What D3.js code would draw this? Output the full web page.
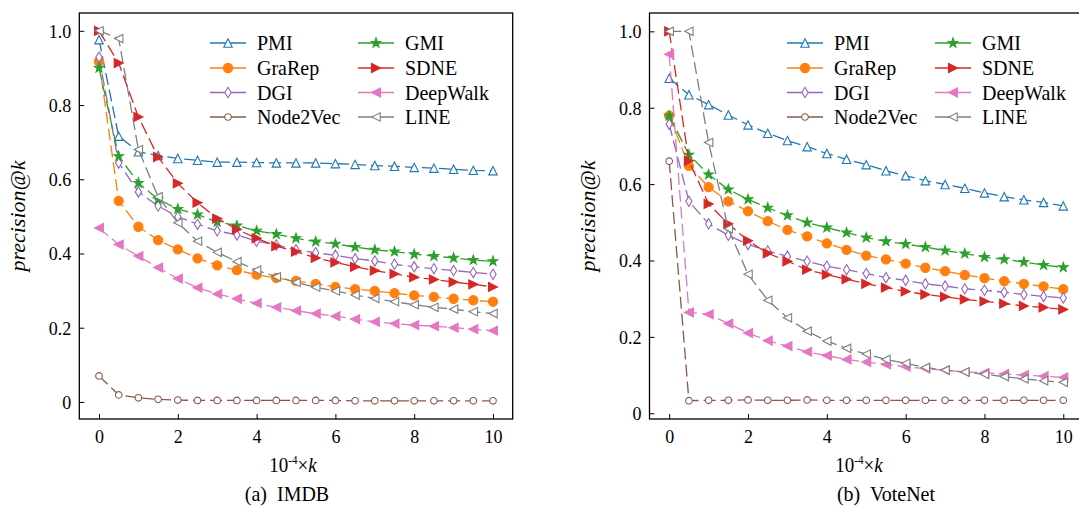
<!DOCTYPE html>
<html>
<head>
<meta charset="utf-8">
<script src="https://cdn.jsdelivr.net/npm/d3@7"></script>
<style>
  body { margin: 0; background: #fff; }
  svg { display: block; }
  text { font-family: "Liberation Serif", "Times New Roman", serif; fill: #000; }
</style>
</head>
<body>
<svg id="chart" width="1079" height="510"></svg>
<script>
// x positions (10^-4 x k)
const kValues = [0, 0.5, 1, 1.5, 2, 2.5, 3, 3.5, 4, 4.5, 5, 5.5, 6, 6.5, 7, 7.5, 8, 8.5, 9, 9.5, 10];
const methods = ['PMI', 'GraRep', 'DGI', 'Node2Vec', 'GMI', 'SDNE', 'DeepWalk', 'LINE'];
const xTicks = [0, 2, 4, 6, 8, 10];
const yTicks = [0, 0.2, 0.4, 0.6, 0.8, 1.0];

// IMDB
const imdbPMI      = [0.976, 0.716, 0.674, 0.664, 0.656, 0.651, 0.646, 0.646, 0.645, 0.644, 0.644, 0.644, 0.642, 0.640, 0.637, 0.635, 0.632, 0.630, 0.627, 0.624, 0.623];
const imdbGraRep   = [0.918, 0.542, 0.472, 0.436, 0.411, 0.387, 0.368, 0.355, 0.343, 0.334, 0.326, 0.318, 0.310, 0.304, 0.299, 0.293, 0.287, 0.283, 0.278, 0.274, 0.270];
const imdbDGI      = [0.929, 0.644, 0.566, 0.528, 0.499, 0.479, 0.461, 0.450, 0.433, 0.423, 0.410, 0.402, 0.395, 0.386, 0.380, 0.371, 0.364, 0.359, 0.354, 0.349, 0.344];
const imdbNode2Vec = [0.070, 0.019, 0.011, 0.007, 0.005, 0.004, 0.004, 0.004, 0.004, 0.004, 0.004, 0.004, 0.004, 0.003, 0.003, 0.003, 0.003, 0.003, 0.003, 0.003, 0.003];
const imdbGMI      = [0.900, 0.662, 0.590, 0.546, 0.520, 0.505, 0.485, 0.475, 0.461, 0.452, 0.441, 0.432, 0.426, 0.417, 0.410, 0.405, 0.398, 0.393, 0.388, 0.382, 0.379];
const imdbSDNE     = [1.000, 0.913, 0.768, 0.660, 0.589, 0.537, 0.494, 0.465, 0.441, 0.420, 0.405, 0.388, 0.376, 0.364, 0.354, 0.345, 0.336, 0.330, 0.323, 0.317, 0.310];
const imdbDeepWalk = [0.469, 0.424, 0.393, 0.362, 0.332, 0.308, 0.291, 0.278, 0.266, 0.255, 0.246, 0.238, 0.231, 0.223, 0.216, 0.211, 0.207, 0.204, 0.200, 0.196, 0.192];
const imdbLINE     = [1.000, 0.979, 0.680, 0.553, 0.483, 0.433, 0.403, 0.378, 0.355, 0.337, 0.322, 0.309, 0.299, 0.288, 0.279, 0.270, 0.262, 0.255, 0.250, 0.243, 0.238];

// VoteNet
const votePMI      = [0.877, 0.834, 0.808, 0.781, 0.755, 0.733, 0.714, 0.698, 0.680, 0.665, 0.651, 0.635, 0.622, 0.609, 0.599, 0.589, 0.577, 0.567, 0.559, 0.552, 0.543];
const voteGraRep   = [0.779, 0.648, 0.592, 0.555, 0.529, 0.503, 0.480, 0.463, 0.445, 0.428, 0.413, 0.403, 0.392, 0.381, 0.372, 0.362, 0.354, 0.346, 0.339, 0.332, 0.325];
const voteDGI      = [0.757, 0.555, 0.496, 0.466, 0.442, 0.425, 0.411, 0.398, 0.385, 0.376, 0.366, 0.355, 0.348, 0.339, 0.333, 0.326, 0.322, 0.317, 0.311, 0.306, 0.302];
const voteNode2Vec = [0.660, 0.033, 0.034, 0.034, 0.035, 0.034, 0.034, 0.035, 0.034, 0.034, 0.034, 0.034, 0.034, 0.034, 0.034, 0.034, 0.034, 0.034, 0.034, 0.034, 0.034];
const voteGMI      = [0.779, 0.677, 0.625, 0.586, 0.560, 0.538, 0.518, 0.499, 0.486, 0.473, 0.460, 0.450, 0.443, 0.435, 0.426, 0.418, 0.409, 0.403, 0.396, 0.388, 0.382];
const voteSDNE     = [1.000, 0.661, 0.548, 0.496, 0.452, 0.419, 0.398, 0.376, 0.363, 0.351, 0.339, 0.329, 0.319, 0.311, 0.305, 0.298, 0.293, 0.287, 0.281, 0.277, 0.272];
const voteDeepWalk = [0.940, 0.264, 0.259, 0.235, 0.210, 0.190, 0.176, 0.161, 0.151, 0.141, 0.134, 0.128, 0.122, 0.117, 0.113, 0.108, 0.106, 0.103, 0.100, 0.097, 0.094];
const voteLINE     = [1.000, 1.000, 0.709, 0.483, 0.364, 0.296, 0.250, 0.215, 0.189, 0.170, 0.155, 0.141, 0.131, 0.120, 0.113, 0.108, 0.102, 0.096, 0.090, 0.085, 0.081];

const imdbSeries = [imdbPMI, imdbGraRep, imdbDGI, imdbNode2Vec, imdbGMI, imdbSDNE, imdbDeepWalk, imdbLINE];
const voteSeries = [votePMI, voteGraRep, voteDGI, voteNode2Vec, voteGMI, voteSDNE, voteDeepWalk, voteLINE];

// style per method (matplotlib tab10)
const styles = {
  PMI:      { color: '#1f77b4', marker: 'triUp',    fill: false, r: 4.2 },
  GraRep:   { color: '#ff7f0e', marker: 'circle',   fill: true,  r: 4.6 },
  DGI:      { color: '#9467bd', marker: 'thinDiam', fill: false, r: 5.2 },
  Node2Vec: { color: '#8c564b', marker: 'circle',   fill: false, r: 3.3 },
  GMI:      { color: '#2ca02c', marker: 'star',     fill: true,  r: 5 },
  SDNE:     { color: '#d62728', marker: 'triRight', fill: true,  r: 4.5 },
  DeepWalk: { color: '#e377c2', marker: 'triLeft',  fill: true,  r: 4.5 },
  LINE:     { color: '#7f7f7f', marker: 'triLeft',  fill: false, r: 4.2 }
};

const SY = 1.1; // text in the reference is a bit taller than wide

function markerPath(type, r) {
  if (type === 'circle') {
    return `M${r},0A${r},${r} 0 1,1 ${-r},0A${r},${r} 0 1,1 ${r},0Z`;
  }
  let pts;
  if (type === 'triUp') pts = [[0, -r], [r, r], [-r, r]];
  else if (type === 'triRight') pts = [[r, 0], [-r, -r], [-r, r]];
  else if (type === 'triLeft') pts = [[-r, 0], [r, -r], [r, r]];
  else if (type === 'thinDiam') pts = [[0, -r], [r * 0.6, 0], [0, r], [-r * 0.6, 0]];
  else if (type === 'star') {
    pts = [];
    for (let i = 0; i < 10; i++) {
      const rr = i % 2 === 0 ? r : r * 0.4;
      const a = -Math.PI / 2 + i * Math.PI / 5;
      pts.push([rr * Math.cos(a), rr * Math.sin(a)]);
    }
  }
  return 'M' + pts.map(p => p[0].toFixed(2) + ',' + p[1].toFixed(2)).join('L') + 'Z';
}

function stretch(sel) {
  sel.each(function() {
    const t = d3.select(this);
    const x = +t.attr('x') || 0, y = +t.attr('y') || 0;
    t.attr('x', null).attr('y', null)
      .attr('transform', `translate(${x},${y}) scale(1,${SY})`);
  });
}

const svg = d3.select('#chart');

const panels = [
  { series: imdbSeries, xRange: [79.3, 512.7], yDomain: [-0.046, 1.048], caption: '(a)  IMDB',
    capX: 287, xlabX: 293, ylabX: 25, legX: 210 },
  { series: voteSeries, xRange: [649.5, 1083], yDomain: [-0.015, 1.048], caption: '(b)  VoteNet',
    capX: 886, xlabX: 859, ylabX: 595, legX: 787 }
];

const plotTop = 13, plotBottom = 419;

panels.forEach(p => {
  const x = d3.scaleLinear().domain([-0.5, 10.5]).range(p.xRange);
  const y = d3.scaleLinear().domain(p.yDomain).range([plotBottom, plotTop]);
  const g = svg.append('g');

  // lines + markers
  methods.forEach((m, i) => {
    const st = styles[m];
    const vals = p.series[i];
    const pts = kValues.map((k, j) => [k, vals[j]]);
    const line = d3.line().x(d => x(d[0])).y(d => y(d[1]));
    g.append('path')
      .attr('d', line(pts))
      .attr('fill', 'none')
      .attr('stroke', st.color)
      .attr('stroke-width', 1.3)
      .attr('stroke-dasharray', '12,5');
    g.selectAll('.mk-' + i)
      .data(pts)
      .enter()
      .append('path')
      .attr('transform', d => `translate(${x(d[0])},${y(d[1])})`)
      .attr('d', markerPath(st.marker, st.r))
      .attr('fill', st.fill ? st.color : '#fff')
      .attr('stroke', st.color)
      .attr('stroke-width', 1.1);
  });

  // axes (ticks inward)
  const xAxis = d3.axisBottom(x).tickValues(xTicks).tickSizeInner(-5).tickSizeOuter(0).tickPadding(10)
    .tickFormat(d3.format('d'));
  const yAxis = d3.axisLeft(y).tickValues(yTicks).tickSizeInner(-5).tickSizeOuter(0).tickPadding(8)
    .tickFormat(d => d === 0 ? '0' : d.toFixed(1));

  const gx = svg.append('g').attr('transform', `translate(0,${plotBottom})`).call(xAxis);
  const gy = svg.append('g').attr('transform', `translate(${p.xRange[0]},0)`).call(yAxis);
  [gx, gy].forEach(a => {
    a.attr('font-family', null);
    a.select('.domain').remove();
    a.selectAll('line').attr('stroke', '#000').attr('stroke-width', 1);
    a.selectAll('text').style('font-size', '18px').style('font-family', '"Liberation Serif", serif');
    stretch(a.selectAll('text'));
  });

  // frame
  svg.append('rect')
    .attr('x', p.xRange[0]).attr('y', plotTop)
    .attr('width', p.xRange[1] - p.xRange[0]).attr('height', plotBottom - plotTop)
    .attr('fill', 'none').attr('stroke', '#000').attr('stroke-width', 1.3);

  // legend
  const rowY = [43, 68, 92.5, 117];
  methods.forEach((m, i) => {
    const st = styles[m];
    const col = Math.floor(i / 4), row = i % 4;
    const lx = p.legX + col * 148, ly = rowY[row];
    svg.append('line')
      .attr('x1', lx).attr('x2', lx + 36).attr('y1', ly).attr('y2', ly)
      .attr('stroke', st.color).attr('stroke-width', 1.3);
    svg.append('path')
      .attr('transform', `translate(${lx + 18},${ly})`)
      .attr('d', markerPath(st.marker, st.r))
      .attr('fill', st.fill ? st.color : '#fff')
      .attr('stroke', st.color).attr('stroke-width', 1.1);
    svg.append('text')
      .attr('transform', `translate(${lx + 47},${ly + 7}) scale(1,${SY})`)
      .style('font-size', '20px')
      .text(m);
  });

  // y label
  svg.append('text')
    .attr('transform', `translate(${p.ylabX},216) rotate(-90) scale(${SY},1)`)
    .attr('text-anchor', 'middle')
    .style('font-size', '20px')
    .style('font-style', 'italic')
    .text('precision@k');

  // x label: 10^-4 x k
  const xl = svg.append('text')
    .attr('transform', `translate(${p.xlabX},472) scale(1,${SY})`)
    .attr('text-anchor', 'middle')
    .style('font-size', '19px');
  xl.append('tspan').text('10');
  xl.append('tspan').attr('dy', -7).style('font-size', '11px').text('-4');
  xl.append('tspan').attr('dy', 7).text('×');
  xl.append('tspan').style('font-style', 'italic').text('k');

  // caption
  svg.append('text')
    .attr('transform', `translate(${p.capX},501) scale(1,${SY})`)
    .attr('text-anchor', 'middle')
    .style('font-size', '20px')
    .style('white-space', 'pre')
    .text(p.caption);
});
</script>
</body>
</html>
